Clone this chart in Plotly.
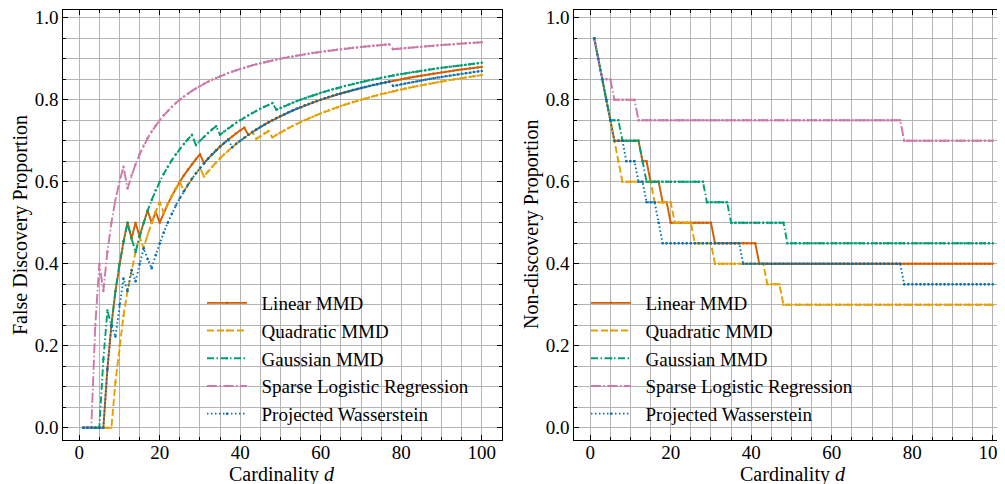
import plotly.graph_objects as go

# ---- data (number of relevant features discovered at each cardinality d) ----
N_RELEVANT = 20
cardinality = list(range(1, 101))

linear_tp = [1, 2, 3, 4, 5] + [6] * 7 + [7] * 2 + [8] * 3 + [9] * 2 + [10] * 11 + [11] * 11 + [12] * 59
quadratic_tp = [1, 2, 3, 4, 5, 6, 7] + [8] * 8 + [9] * 5 + [10] * 5 + [11] * 5 + [12] * 13 + [13] * 4 + [14] * 53
gaussian_tp = [1, 2, 3, 4] + [5] * 3 + [6] * 5 + [7] * 1 + [8] * 15 + [9] * 6 + [10] * 14 + [11] * 52
sparse_lr_tp = [1, 2] + [3] * 3 + [4] * 6 + [5] * 66 + [6] * 23
proj_w_tp = [1, 2, 3, 4, 5] + [6] * 3 + [7] * 3 + [8] * 2 + [9] * 3 + [10] * 1 + [11] * 20 + [12] * 40 + [13] * 23

method_names = ["Linear MMD", "Quadratic MMD", "Gaussian MMD",
                "Sparse Logistic Regression", "Projected Wasserstein"]
method_tp = [linear_tp, quadratic_tp, gaussian_tp, sparse_lr_tp, proj_w_tp]

x_ticks = [0, 20, 40, 60, 80, 100]
y_ticks = [0.0, 0.2, 0.4, 0.6, 0.8, 1.0]

# ---- styles ----
colors = ["#D55E00", "#E69F00", "#009E73", "#CC79A7", "#0072B2"]
dashes = ["solid", "7px,3px", "7px,2.5px,1.5px,2.5px", "10px,2.5px,1.5px,2.5px", "1.5px,2.5px"]

W, H = 1005, 484
OFF = 8  # page body margin of the browser
FONT = "Liberation Serif"
NBSP = "\u00a0"

def px_x(p):
    return (p - OFF) / W

def px_y(p):
    return 1 - (p - OFF) / H

fig = go.Figure()

for i, (name, tp) in enumerate(zip(method_names, method_tp)):
    fdp = [(d - t) / d for d, t in zip(cardinality, tp)]
    ndp = [1 - t / N_RELEVANT for t in tp]
    common = dict(mode="lines+markers", name=NBSP * 2 + name,
                  line=dict(color=colors[i], width=1.9, dash=dashes[i]),
                  marker=dict(color=colors[i], size=2.5),
                  legendgroup=f"g{i}")
    fig.add_trace(go.Scatter(x=cardinality, y=fdp, xaxis="x", yaxis="y",
                             legend="legend", **common))
    fig.add_trace(go.Scatter(x=cardinality, y=ndp, xaxis="x2", yaxis="y2",
                             legend="legend2", **common))

grid = "#b4b4b4"
tickfont = dict(family=FONT, size=19, color="black")

def xaxis(domain, rng, anchor):
    return dict(domain=domain, range=rng, anchor=anchor, automargin=False,
                tickvals=x_ticks, ticks="inside", ticklen=5, tickwidth=1, tickcolor="black",
                ticklabelstandoff=-5, ticklabeloverflow="allow",
                showline=True, linecolor="black", linewidth=1, mirror="allticks",
                showgrid=True, gridcolor=grid, gridwidth=1, zeroline=False,
                minor=dict(dtick=5, tick0=0, ticks="inside", ticklen=3, tickcolor="black",
                           showgrid=True, gridcolor=grid, gridwidth=1),
                tickfont=tickfont)

def yaxis(domain, anchor):
    return dict(domain=domain, range=[-0.03, 1.02], anchor=anchor, automargin=False,
                tickvals=y_ticks, tickformat=".1f", ticklabeloverflow="allow",
                ticks="inside", ticklen=5, tickwidth=1, tickcolor="black",
                showline=True, linecolor="black", linewidth=1, mirror="allticks",
                showgrid=True, gridcolor=grid, gridwidth=1, zeroline=False,
                minor=dict(dtick=0.05, tick0=0, ticks="inside", ticklen=3, tickcolor="black",
                           showgrid=True, gridcolor=grid, gridwidth=1),
                tickfont=tickfont)

ydom = [px_y(440), px_y(9.5)]

legend_common = dict(bgcolor="rgba(0,0,0,0)", borderwidth=0,
                     font=dict(family=FONT, size=19, color="black"),
                     tracegroupgap=0, itemwidth=40, traceorder="grouped",
                     xanchor="left", yanchor="top")

title_font = dict(family=FONT, size=20, color="black")

fig.update_layout(
    width=W, height=H,
    margin=dict(l=0, r=0, t=0, b=0, autoexpand=False),
    paper_bgcolor="white", plot_bgcolor="white",
    xaxis=xaxis([px_x(63.3), px_x(501.7)], [-3.95, 104.95], "y"),
    yaxis=yaxis(ydom, "x"),
    xaxis2=xaxis([px_x(574.3), px_x(1012.7)], [-3.95, 104.95], "y2"),
    yaxis2=yaxis(ydom, "x2"),
    legend=dict(x=px_x(202), y=px_y(284), **legend_common),
    legend2=dict(x=px_x(586), y=px_y(284), **legend_common),
    annotations=[
        dict(text="Cardinality <i>d</i>", x=px_x(282), y=px_y(474), xref="paper", yref="paper",
             xanchor="center", yanchor="middle", showarrow=False, font=title_font),
        dict(text="Cardinality <i>d</i>", x=px_x(793), y=px_y(474), xref="paper", yref="paper",
             xanchor="center", yanchor="middle", showarrow=False, font=title_font),
        dict(text="False Discovery Proportion", x=px_x(20), y=px_y(225), xref="paper", yref="paper",
             xanchor="center", yanchor="middle", showarrow=False, textangle=-90, font=title_font),
        dict(text="Non-discovery Proportion", x=px_x(531), y=px_y(225), xref="paper", yref="paper",
             xanchor="center", yanchor="middle", showarrow=False, textangle=-90, font=title_font),
    ],
)

fig.write_html("out.html")
